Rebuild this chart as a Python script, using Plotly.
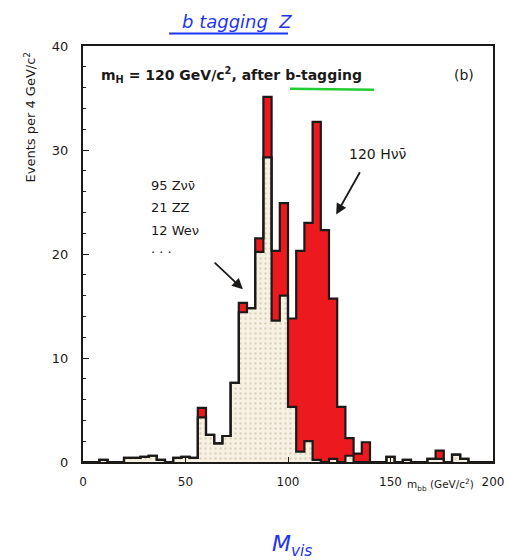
import plotly.graph_objects as go

# m_bb histogram, 4 GeV/c^2 bins from 0 to 200
bin_width = 4
bin_left = list(range(0, 200, bin_width))

# signal + background (stacked total) per bin
total = [0, 0, 0.2, 0, 0, 0.4, 0.4, 0.5, 0.6, 0.2,
         0, 0.4, 0.5, 0.4, 5.2, 2.6, 1.8, 2.5, 7.6, 15.3,
         14.8, 21.5, 35.1, 20.3, 24.9, 13.8, 20.3, 23.0, 32.7, 22.3,
         15.7, 5.3, 2.3, 0.8, 1.9, 0, 0, 0.5, 0, 0.2,
         0, 0, 0.3, 1.1, 0, 0.7, 0.3, 0, 0, 0]

# background only (Z nu nu, ZZ, W e nu, ...)
background = [0, 0, 0.2, 0, 0, 0.4, 0.4, 0.5, 0.6, 0.2,
              0, 0.4, 0.5, 0.4, 4.3, 2.6, 1.8, 2.5, 7.6, 14.4,
              14.8, 20.2, 29.3, 13.6, 16.0, 5.3, 1.0, 2.0, 0.2, 0,
              0.3, 0, 0.6, 0, 0, 0, 0, 0.5, 0, 0.2,
              0, 0, 0.3, 0.3, 0, 0.7, 0.3, 0, 0, 0]

x_ticks = [0, 50, 100, 150, 200]
y_ticks = [0, 10, 20, 30, 40]

bkg_lines = ["95 Zνν̄", "21 ZZ", "12 Weν", "· · ·"]
sig_label = "120 Hνν̄"

step_x = [0] + bin_left + [200]

INK = "#1c1a18"
RED = "#ec1a1f"
FONT = "DejaVu Sans"


def steps(vals):
    # y values for an 'hv' step path that starts and ends on the baseline
    return [0] + vals + [0]


fig = go.Figure()

# signal (red) area: the full stacked height
fig.add_trace(go.Scatter(
    x=step_x, y=steps(total), mode="lines", line_shape="hv",
    line=dict(width=0), fill="tozeroy", fillcolor=RED,
    showlegend=False, hoverinfo="skip"))

# background area, stippled cream
fig.add_trace(go.Scatter(
    x=step_x, y=steps(background), mode="lines", line_shape="hv",
    line=dict(width=0), fill="tozeroy", fillcolor="#f6f0e2",
    fillpattern=dict(shape=".", fgcolor="#bfb196", bgcolor="#f7f1e4",
                     size=5, solidity=0.18),
    showlegend=False, hoverinfo="skip"))

# histogram outlines
for vals in (total, background):
    fig.add_trace(go.Scatter(
        x=step_x, y=steps(vals), mode="lines", line_shape="hv",
        line=dict(color=INK, width=2.2),
        showlegend=False, hoverinfo="skip"))

annotations = [
    dict(x=8, y=37.2, xref="x", yref="y", xanchor="left", yanchor="middle",
         text="<b>m<sub>H</sub> = 120 GeV/c<sup>2</sup>, after b-tagging</b>",
         showarrow=False, font=dict(family=FONT, size=14, color=INK)),
    dict(x=186, y=37.2, xref="x", yref="y", xanchor="center", yanchor="middle",
         text="(b)", showarrow=False, font=dict(family=FONT, size=14, color=INK)),
    dict(x=144, y=29.6, xref="x", yref="y", xanchor="center", yanchor="middle",
         text=sig_label, showarrow=False, font=dict(family=FONT, size=14, color=INK)),
    dict(x=123.5, y=23.8, ax=135.5, ay=28.0, xref="x", yref="y", axref="x", ayref="y",
         showarrow=True, arrowhead=2, arrowsize=1.2, arrowwidth=1.8, arrowcolor=INK, text=""),
    dict(x=78.0, y=16.6, ax=63.5, ay=19.3, xref="x", yref="y", axref="x", ayref="y",
         showarrow=True, arrowhead=2, arrowsize=1.2, arrowwidth=1.8, arrowcolor=INK, text=""),
    dict(x=-0.13, y=0.83, xref="paper", yref="paper", textangle=-90,
         xanchor="center", yanchor="middle",
         text="Events per 4 GeV/c<sup>2</sup>", showarrow=False,
         font=dict(family=FONT, size=13, color=INK)),
    dict(x=0.872, y=-0.055, xref="paper", yref="paper", xanchor="center", yanchor="middle",
         text="m<sub>bb</sub> (GeV/c<sup>2</sup>)", showarrow=False,
         font=dict(family=FONT, size=10.5, color=INK)),
    dict(x=0.375, y=1.058, xref="paper", yref="paper", xanchor="center", yanchor="middle",
         text="<i>b tagging  Z</i>", showarrow=False,
         font=dict(family=FONT, size=18, color="#1f35f0")),
    dict(x=0.51, y=-0.2, xref="paper", yref="paper", xanchor="center", yanchor="middle",
         text="<i>M<sub>vis</sub></i>", showarrow=False,
         font=dict(family=FONT, size=22, color="#1f35f0")),
]
for i, line in enumerate(bkg_lines):
    annotations.append(dict(
        x=32, y=26.6 - 2.15 * i, xref="x", yref="y", xanchor="left", yanchor="middle",
        text=line, showarrow=False, font=dict(family=FONT, size=13, color=INK)))

shapes = [
    # green marker underline beneath "b-tagging"
    dict(type="line", xref="x", yref="y", x0=101, x1=142, y0=35.9, y1=35.8,
         line=dict(color="#22cc33", width=2.5)),
    # blue pen underline beneath the note at the top
    dict(type="line", xref="paper", yref="paper", x0=0.21, x1=0.5, y0=1.03, y1=1.03,
         line=dict(color="#1f35f0", width=2)),
]

fig.update_layout(
    width=515, height=560,
    margin=dict(l=83, r=22, t=46, b=98),
    paper_bgcolor="white", plot_bgcolor="white",
    annotations=annotations, shapes=shapes,
    font=dict(family=FONT, color=INK),
    xaxis=dict(range=[0, 200], tickvals=x_ticks, ticks="inside", ticklen=5,
               tickcolor=INK, showgrid=False, zeroline=False,
               showline=True, linecolor=INK, linewidth=2, mirror=True,
               tickfont=dict(family=FONT, size=12, color=INK), ticklabelstandoff=8),
    yaxis=dict(range=[0, 40], tickvals=y_ticks, ticks="inside", ticklen=6,
               tickcolor=INK, showgrid=False, zeroline=False,
               showline=True, linecolor=INK, linewidth=2, mirror=True,
               minor=dict(dtick=2, ticks="inside", ticklen=3, tickcolor=INK),
               tickfont=dict(family=FONT, size=13, color=INK), ticklabelstandoff=10),
)

fig.write_html("out.html")
